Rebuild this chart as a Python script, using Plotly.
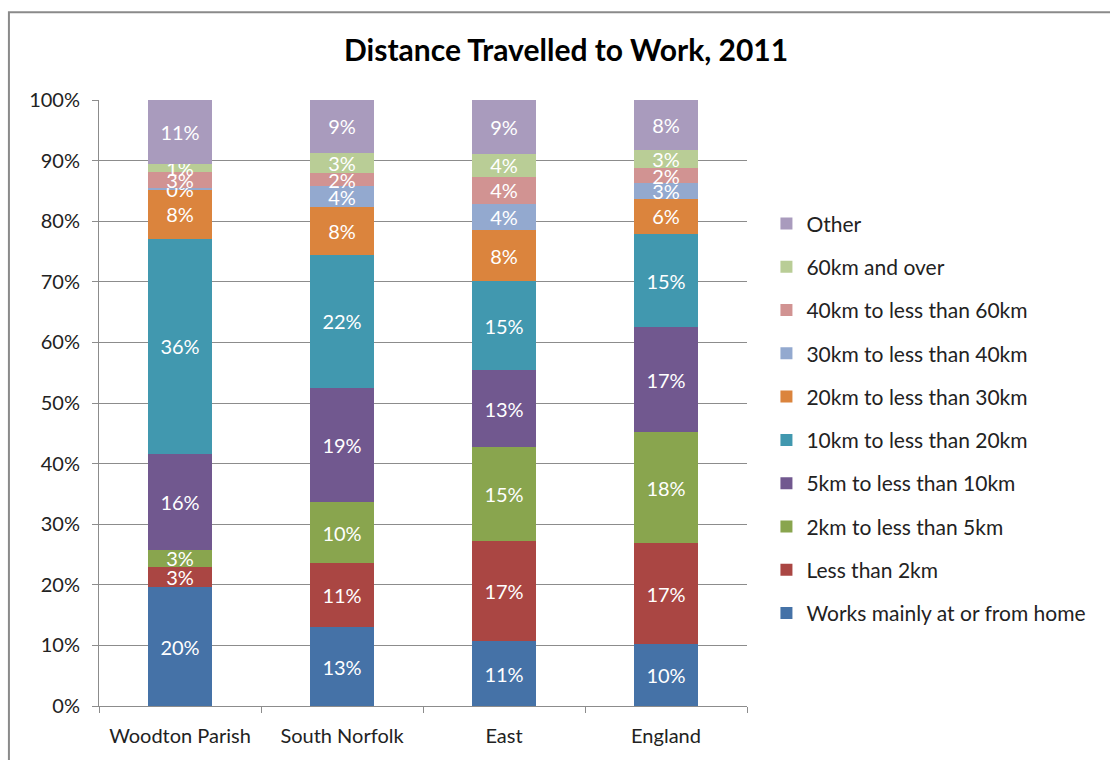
import plotly.graph_objects as go

categories = ["Woodton Parish", "South Norfolk", "East", "England"]

series_names = [
    "Works mainly at or from home",
    "Less than 2km",
    "2km to less than 5km",
    "5km to less than 10km",
    "10km to less than 20km",
    "20km to less than 30km",
    "30km to less than 40km",
    "40km to less than 60km",
    "60km and over",
    "Other",
]

home      = [19.6, 13.0, 10.7, 10.2]
lt2       = [3.4, 10.6, 16.6, 16.7]
km2_5     = [2.8, 10.0, 15.4, 18.3]
km5_10    = [15.8, 18.8, 12.7, 17.3]
km10_20   = [35.5, 22.1, 14.7, 15.4]
km20_30   = [8.1, 7.8, 8.4, 5.8]
km30_40   = [0.3, 3.5, 4.4, 2.6]
km40_60   = [2.6, 2.1, 4.4, 2.4]
km60_plus = [1.3, 3.4, 3.8, 3.0]
other     = [10.6, 8.7, 8.9, 8.3]

series_values = [home, lt2, km2_5, km5_10, km10_20, km20_30, km30_40, km40_60, km60_plus, other]

colors = ["#4572A7", "#AA4643", "#89A54E", "#71588F", "#4198AF",
          "#DB843D", "#93A9CF", "#D19392", "#B9CD96", "#A99BBD"]

y_ticks = [0, 10, 20, 30, 40, 50, 60, 70, 80, 90, 100]
y_tick_labels = [f"{t}%" for t in y_ticks]

FONT = "Lato"

fig = go.Figure()
for i, (name, vals) in enumerate(zip(series_names, series_values)):
    fig.add_trace(go.Bar(
        x=categories, y=vals, name=name,
        marker=dict(color=colors[i], line=dict(width=0)),
        text=[f"{round(v):.0f}%" for v in vals],
        textposition="inside", insidetextanchor="middle",
        textfont=dict(color="white", size=20, family=FONT),
        constraintext="none",
        legendgroup=f"g{i}",
        legendrank=100 - i,
        hoverinfo="x+y+name",
    ))

fig.update_layout(
    barmode="stack",
    bargap=0.6,
    width=1110, height=760,
    margin=dict(l=99, r=363, t=100, b=54),
    paper_bgcolor="white", plot_bgcolor="white",
    font=dict(family=FONT, size=20, color="#222222"),
    uniformtext=dict(mode="show", minsize=20),
    title=dict(text="<b>Distance Travelled to Work, 2011</b>",
               font=dict(family=FONT, size=30, color="black"),
               x=0.51, xanchor="center", xref="container",
               y=0.934, yanchor="middle", yref="container"),
    legend=dict(traceorder="grouped", x=1.03, xanchor="left", y=0.474, yanchor="middle",
                font=dict(family=FONT, size=21, color="#222222"),
                tracegroupgap=13, itemwidth=30, bgcolor="rgba(0,0,0,0)"),
    showlegend=True,
)

fig.update_yaxes(
    range=[0, 100], tickvals=y_ticks, ticktext=y_tick_labels,
    showgrid=True, gridcolor="#8C8C8C", gridwidth=1,
    showline=True, linecolor="#8C8C8C", linewidth=1,
    ticks="outside", ticklen=6, tickcolor="#8C8C8C",
    ticklabelstandoff=8,
    tickfont=dict(size=20, family=FONT, color="#222222"),
    zeroline=False, fixedrange=True,
)
fig.update_xaxes(
    showline=True, linecolor="#8C8C8C", linewidth=1,
    ticks="outside", ticklen=6, tickcolor="#8C8C8C", tickson="boundaries",
    ticklabelstandoff=12,
    showgrid=False,
    tickfont=dict(size=20, family=FONT, color="#222222"),
)

# chart border (Excel chart-area frame)
fig.add_shape(type="rect", xref="paper", yref="paper",
              x0=-0.139, x1=1.568, y0=-0.106, y1=1.145,
              line=dict(color="#8A8A8A", width=2), fillcolor="rgba(0,0,0,0)", layer="below")

fig.write_html("out.html")
